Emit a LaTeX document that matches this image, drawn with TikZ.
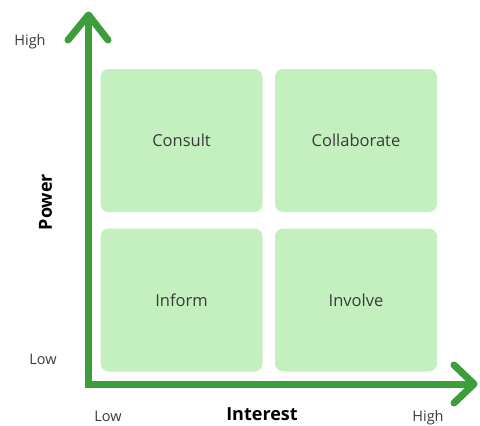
\documentclass[tikz,border=0pt]{standalone}
\usepackage{fontspec}
\setmainfont{Open Sans}
\definecolor{boxgreen}{HTML}{C4EFBF}
\definecolor{axisgreen}{HTML}{3B9E3B}
\definecolor{txt}{HTML}{3A3A3A}
\begin{document}
\begin{tikzpicture}[x=1pt,y=-1pt,
  quad/.style={fill=boxgreen,draw=none,rounded corners=8pt,minimum width=162pt,minimum height=143pt,inner sep=0pt,font=\fontsize{16.5}{18}\selectfont,text=txt},
  axis/.style={draw=axisgreen,line width=7pt},
  tipline/.style={draw=axisgreen,line width=7pt,line cap=round,line join=round},
  tick/.style={font=\fontsize{14.5}{16}\selectfont,text=txt,anchor=base,inner sep=0pt},
  axlabel/.style={font=\bfseries\fontsize{18}{20}\selectfont,text=black,anchor=base,inner sep=0pt}]
\useasboundingbox (0,0) rectangle (480,426);
\node[quad] (consult) at (181.5,140.5) {Consult};
\node[quad] (collab) at (356,140.5) {Collaborate};
\node[quad] (inform) at (181.5,300) {Inform};
\node[quad] (involve) at (356,300) {Involve};
\coordinate (origin) at (88.5,384);
\coordinate (ytip) at (88.5,15);
\coordinate (xtip) at (474,384);
\coordinate (yl) at (68,40);
\coordinate (yr) at (108,40);
\coordinate (xu) at (454,365);
\coordinate (xd) at (454,403);
\draw[axis] (ytip) -- (origin) -- (xtip);
\draw[tipline] (yl) -- (ytip) -- (yr);
\draw[tipline] (xu) -- (xtip) -- (xd);
\node[tick] (yhigh) at (30,45) {High};
\node[tick] (ylow) at (43,364) {Low};
\node[tick] (xlow) at (108,421) {Low};
\node[tick] (xhigh) at (428,421) {High};
\node[axlabel] (interest) at (262,420) {Interest};
\node[axlabel,rotate=90] (power) at (52,202) {Power};
\end{tikzpicture}
\end{document}
